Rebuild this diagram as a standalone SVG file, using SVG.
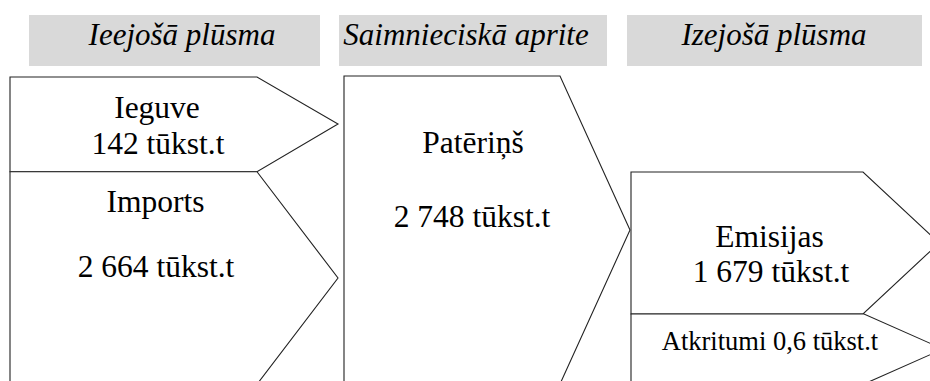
<svg xmlns="http://www.w3.org/2000/svg" width="930" height="381" viewBox="0 0 930 381">
<style>
.hdr{fill:#d9d9d9;stroke:none}
.ht{font-family:'Liberation Serif','Times New Roman',serif;font-style:italic;font-size:31px;fill:#000;text-anchor:middle}
.box{fill:#fff;stroke:#222;stroke-width:1.1}
.t{font-family:'Liberation Serif','Times New Roman',serif;font-size:31.5px;fill:#000;text-anchor:middle}
.ts{font-family:'Liberation Serif','Times New Roman',serif;font-size:26.5px;fill:#000;text-anchor:middle}
</style>
<rect width="930" height="381" fill="#fff"/>
<g id="header-ieejosa">
<rect class="hdr" x="29" y="15" width="291" height="51"/>
<text class="ht" x="182" y="44.5">Ieejošā plūsma</text>
</g>
<g id="header-saimnieciska">
<rect class="hdr" x="339" y="15" width="268" height="51"/>
<text class="ht" x="466" y="44.5">Saimnieciskā aprite</text>
</g>
<g id="header-izejosa">
<rect class="hdr" x="627" y="15" width="295" height="51"/>
<text class="ht" x="774" y="44.5">Izejošā plūsma</text>
</g>
<g id="ieguve">
<polygon class="box" points="10,77 257,77 338,124 257,171.7 10,171.7"/>
<text class="t" x="157" y="117.5">Ieguve</text>
<text class="t" x="158" y="153.5">142 tūkst.t</text>
</g>
<g id="imports">
<polygon class="box" points="10,171.7 257,171.7 338,278 257,384.3 10,384.3"/>
<text class="t" x="155.5" y="212">Imports</text>
<text class="t" x="156" y="277">2 664 tūkst.t</text>
</g>
<g id="paterins">
<polygon class="box" points="344,76 560,76 630,230 560,384 344,384"/>
<text class="t" x="473" y="153">Patēriņš</text>
<text class="t" x="472" y="227">2 748 tūkst.t</text>
</g>
<g id="emisijas">
<polygon class="box" points="631,172 863,172 939,243 863,314 631,314"/>
<text class="t" x="769.5" y="247">Emisijas</text>
<text class="t" x="771" y="282">1 679 tūkst.t</text>
</g>
<g id="atkritumi">
<polygon class="box" points="631,314 864,314 943,349 864,384 631,384"/>
<text class="ts" x="770" y="350">Atkritumi 0,6 tūkst.t</text>
</g>
<g id="connectors"></g>
</svg>
